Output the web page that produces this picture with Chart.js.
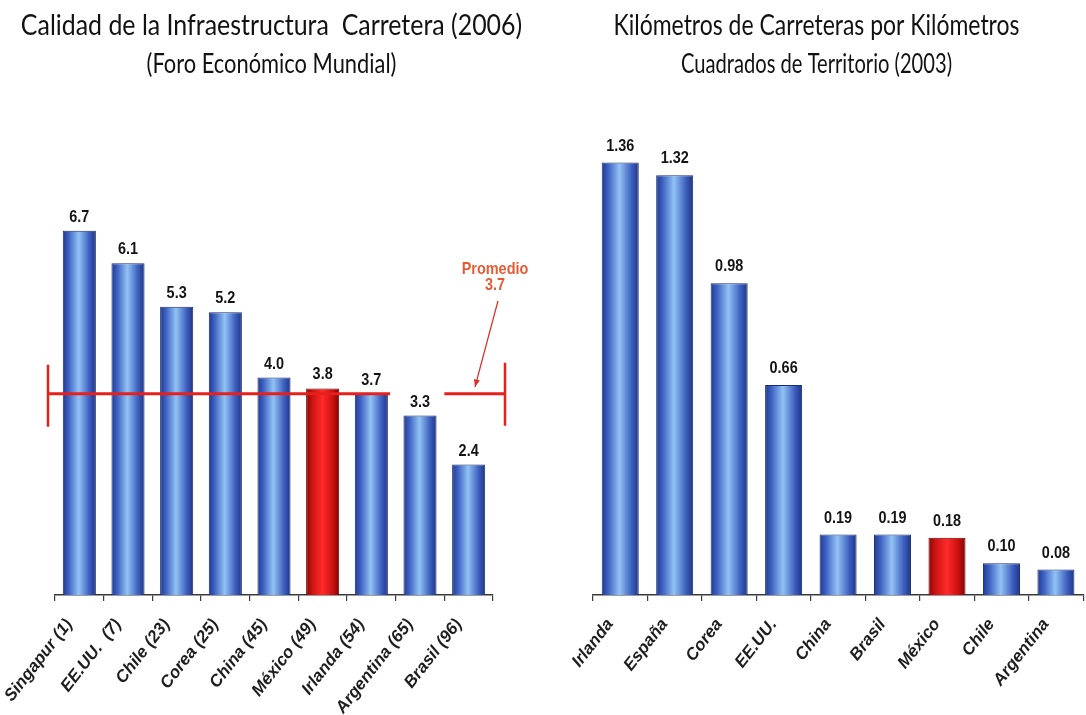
<!DOCTYPE html>
<html><head><meta charset="utf-8">
<script src="https://cdn.jsdelivr.net/npm/chart.js@4.4.1/dist/chart.umd.min.js"></script>
<style>
html,body{margin:0;padding:0;background:#fff;}
#wrap{display:flex;width:1086px;height:715px;}
.box{position:relative;width:543px;height:715px;}
</style></head><body>
<div id="wrap"><div class="box"><canvas id="c1"></canvas></div><div class="box"><canvas id="c2"></canvas></div></div>
<script>
// ---- data ----
const leftTitle = ['Calidad de la Infraestructura  Carretera (2006)', '(Foro Económico Mundial)'];
const leftCategories = ['Singapur (1)', 'EE.UU.  (7)', 'Chile (23)', 'Corea (25)', 'China (45)', 'México (49)', 'Irlanda (54)', 'Argentina (65)', 'Brasil (96)'];
const leftValues = [6.7, 6.1, 5.3, 5.2, 4.0, 3.8, 3.7, 3.3, 2.4];
const leftAverage = 3.7;
const leftAverageLabel = ['Promedio', '3.7'];

const rightTitle = ['Kilómetros de Carreteras por Kilómetros', 'Cuadrados de Territorio (2003)'];
const rightCategories = ['Irlanda', 'España', 'Corea', 'EE.UU.', 'China', 'Brasil', 'México', 'Chile', 'Argentina'];
const rightValues = [1.36, 1.32, 0.98, 0.66, 0.19, 0.19, 0.18, 0.10, 0.08];

const highlightCountry = 'México';

// ---- styling helpers ----
const BAR_PCT = 0.68;
const TEXT_SQUEEZE = 0.85;
const TITLE_FONTS = ['28px Lato, "Open Sans", sans-serif', '27px Lato, "Open Sans", sans-serif'];
const TITLE_LINE_SQUEEZE = [1, 0.91];
const VALUE_FONT = 'bold 17px "Liberation Sans", Arial, sans-serif';

function barFill(c) {
  const chart = c.chart, xs = chart.scales && chart.scales.x;
  const label = String(chart.data.labels[c.dataIndex] || '');
  const red = label.startsWith(highlightCountry);
  const flat = red ? '#e01010' : '#5a86d8';
  if (!xs || c.dataIndex === undefined) return flat;
  const n = chart.data.labels.length;
  const w = xs.width / n * BAR_PCT;
  const cx = xs.getPixelForValue(c.dataIndex);
  if (!isFinite(w) || !isFinite(cx) || w <= 0) return flat;
  const g = chart.ctx.createLinearGradient(cx - w / 2, 0, cx + w / 2, 0);
  if (red) {
    g.addColorStop(0, '#8e0606');
    g.addColorStop(0.2, '#d01414');
    g.addColorStop(0.5, '#ff2a2a');
    g.addColorStop(0.8, '#cc1010');
    g.addColorStop(1, '#7e0404');
  } else {
    g.addColorStop(0, '#22388e');
    g.addColorStop(0.18, '#3f63c4');
    g.addColorStop(0.48, '#92c2f4');
    g.addColorStop(0.8, '#3d60c0');
    g.addColorStop(1, '#1f3384');
  }
  return g;
}
function barBorder(c) {
  const label = String(c.chart.data.labels[c.dataIndex] || '');
  return label.startsWith(highlightCountry) ? '#6a0000' : '#1b2c72';
}

function squeezedText(ctx, text, x, y, sx) {
  ctx.save();
  ctx.translate(x, y);
  ctx.scale(sx || TEXT_SQUEEZE, 1);
  ctx.fillText(text, 0, 0);
  ctx.restore();
}

const titlePlugin = {
  id: 'twoLineTitle',
  afterDraw(chart, args, opts) {
    const ctx = chart.ctx;
    ctx.save();
    ctx.fillStyle = '#121212';
    ctx.textAlign = 'center';
    ctx.textBaseline = 'alphabetic';
    const cx = chart.width / 2 + (opts.dx || 0);
    opts.text.forEach((line, i) => {
      ctx.font = TITLE_FONTS[i];
      squeezedText(ctx, line, cx, 35 + i * 38, opts.squeeze * TITLE_LINE_SQUEEZE[i]);
    });
    ctx.restore();
  }
};

const valueLabelPlugin = {
  id: 'valueLabels',
  afterDatasetsDraw(chart, args, opts) {
    const ctx = chart.ctx;
    const meta = chart.getDatasetMeta(0);
    const data = chart.data.datasets[0].data;
    ctx.save();
    ctx.font = VALUE_FONT;
    ctx.fillStyle = '#141414';
    ctx.textAlign = 'center';
    ctx.textBaseline = 'alphabetic';
    meta.data.forEach((el, i) => {
      squeezedText(ctx, data[i].toFixed(opts.decimals), el.x, el.y - opts.gap);
    });
    ctx.restore();
  }
};

const averagePlugin = {
  id: 'averageLine',
  afterDatasetsDraw(chart, args, opts) {
    if (!opts.enabled) return;
    const { ctx, chartArea, scales: { x, y } } = chart;
    const py = y.getPixelForValue(leftAverage);
    const step = x.width / leftValues.length;
    const x0 = chartArea.left - 7;
    const x1 = x.getPixelForValue(6) + step * 0.385;
    const x2 = x.getPixelForValue(7) + step * 0.5;
    const x3 = chartArea.right + 12;
    ctx.save();
    ctx.strokeStyle = '#e8201c';
    ctx.lineWidth = 3;
    ctx.beginPath();
    ctx.moveTo(x0, py); ctx.lineTo(x1, py);
    ctx.moveTo(x2, py); ctx.lineTo(x3, py);
    ctx.stroke();
    ctx.lineWidth = 2.5;
    ctx.beginPath();
    ctx.moveTo(x0, py - 29); ctx.lineTo(x0, py + 33);
    ctx.moveTo(x3, py - 31); ctx.lineTo(x3, py + 32);
    ctx.stroke();
    // arrow
    const ax0 = x3 - 7, ay0 = py - 93, ax1 = x3 - 30, ay1 = py - 7;
    ctx.lineWidth = 1.3;
    ctx.strokeStyle = '#d8302a';
    ctx.beginPath(); ctx.moveTo(ax0, ay0); ctx.lineTo(ax1, ay1); ctx.stroke();
    const ang = Math.atan2(ay1 - ay0, ax1 - ax0);
    ctx.fillStyle = '#d8302a';
    ctx.beginPath();
    ctx.moveTo(ax1, ay1);
    ctx.lineTo(ax1 - 8 * Math.cos(ang - 0.4), ay1 - 8 * Math.sin(ang - 0.4));
    ctx.lineTo(ax1 - 8 * Math.cos(ang + 0.4), ay1 - 8 * Math.sin(ang + 0.4));
    ctx.closePath(); ctx.fill();
    // text
    ctx.fillStyle = '#e95a34';
    ctx.font = 'bold 17px "Liberation Sans", Arial, sans-serif';
    ctx.textAlign = 'center';
    ctx.textBaseline = 'middle';
    squeezedText(ctx, leftAverageLabel[0], x3 - 10, py - 125);
    squeezedText(ctx, leftAverageLabel[1], x3 - 10, py - 109);
    ctx.restore();
  }
};

function makeChart(id, cfg) {
  return new Chart(document.getElementById(id), {
    type: 'bar',
    data: {
      labels: cfg.labels,
      datasets: [{
        data: cfg.values,
        backgroundColor: barFill,
        borderColor: barBorder,
        borderWidth: 1,
        borderSkipped: 'bottom',
        categoryPercentage: 1,
        barPercentage: BAR_PCT
      }]
    },
    options: {
      responsive: true,
      maintainAspectRatio: false,
      animation: false,
      events: [],
      layout: { padding: { left: cfg.padLeft, right: cfg.padRight, top: cfg.padTop, bottom: 0 } },
      plugins: {
        legend: { display: false },
        tooltip: { enabled: false },
        title: { display: false },
        twoLineTitle: { text: cfg.title, dx: cfg.titleDx, squeeze: cfg.titleSqueeze },
        valueLabels: { decimals: cfg.decimals, gap: cfg.gap },
        averageLine: { enabled: cfg.average }
      },
      scales: {
        x: {
          offset: true,
          border: { display: true, color: '#3a3a3a', width: 1.5 },
          grid: { display: true, drawOnChartArea: false, drawTicks: true, tickLength: 6, color: '#3a3a3a', lineWidth: 1.2 },
          ticks: {
            autoSkip: false,
            minRotation: 52,
            maxRotation: 52,
            padding: 14,
            labelOffset: -10,
            color: '#1e1e1e',
            font: { family: '"Liberation Sans", Arial, sans-serif', size: 17, weight: 'bold', style: 'italic' }
          },
          afterFit(s) { s.height = 120; }
        },
        y: {
          display: false,
          min: 0,
          max: cfg.max
        }
      }
    },
    plugins: [valueLabelPlugin, averagePlugin, titlePlugin]
  });
}

makeChart('c1', {
  labels: leftCategories, values: leftValues, title: leftTitle, titleDx: 0, titleSqueeze: 0.89,
  padLeft: 55, padRight: 50, padTop: 160, max: 8, decimals: 1, gap: 9, average: true
});
makeChart('c2', {
  labels: rightCategories, values: rightValues, title: rightTitle, titleDx: 2, titleSqueeze: 0.82,
  padLeft: 50, padRight: 0, padTop: 118, max: 1.5, decimals: 2, gap: 12, average: false
});
</script>
</body></html>
